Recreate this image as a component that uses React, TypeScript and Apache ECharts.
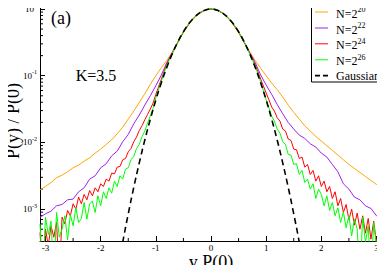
import React, { useEffect, useRef } from "react";
import * as echarts from "echarts";

// x grid (y P(0)) for the smoother curves, step 0.1
const xCoarse = [
  -3.1, -3.0, -2.9, -2.8, -2.7, -2.6, -2.5, -2.4, -2.3, -2.2, -2.1, -2.0, -1.9, -1.8, -1.7, -1.6,
  -1.5, -1.4, -1.3, -1.2, -1.1, -1.0, -0.9, -0.8, -0.7, -0.6, -0.5, -0.4, -0.3, -0.2, -0.1, 0,
  0.1, 0.2, 0.3, 0.4, 0.5, 0.6, 0.7, 0.8, 0.9, 1.0, 1.1, 1.2, 1.3, 1.4, 1.5, 1.6,
  1.7, 1.8, 1.9, 2.0, 2.1, 2.2, 2.3, 2.4, 2.5, 2.6, 2.7, 2.8, 2.9, 3.0, 3.1,
];

// log10 of P(y)/P(0)
const n20Log = [
  -2.71, -2.66, -2.6, -2.53, -2.49, -2.44, -2.38, -2.34, -2.28, -2.23, -2.16, -2.1, -2.03, -1.96, -1.87, -1.77,
  -1.65, -1.53, -1.4, -1.27, -1.13, -1.0, -0.88, -0.77, -0.64, -0.505, -0.355, -0.23, -0.13, -0.06, -0.015, 0,
  -0.015, -0.06, -0.13, -0.23, -0.355, -0.505, -0.64, -0.77, -0.89, -1.0, -1.11, -1.21, -1.32, -1.44, -1.55, -1.65,
  -1.75, -1.83, -1.91, -1.98, -2.05, -2.12, -2.19, -2.26, -2.33, -2.39, -2.45, -2.51, -2.57, -2.63, -2.69,
];

const n22Log = [
  -3.12, -3.07, -3.03, -2.95, -2.93, -2.86, -2.85, -2.74, -2.68, -2.55, -2.5, -2.38, -2.32, -2.2, -2.13, -1.99,
  -1.88, -1.72, -1.59, -1.44, -1.3, -1.15, -0.99, -0.8, -0.65, -0.495, -0.345, -0.22, -0.124, -0.055, -0.014, 0,
  -0.014, -0.055, -0.124, -0.22, -0.345, -0.495, -0.65, -0.8, -0.99, -1.14, -1.28, -1.43, -1.57, -1.7, -1.8, -1.89,
  -1.94, -2.02, -2.07, -2.16, -2.22, -2.33, -2.44, -2.62, -2.7, -2.82, -2.86, -2.95, -2.99, -3.1, -3.14,
];

// finer x grid for the noisy curves
const xFine = [
  -3.1, -3.05, -3.0, -2.95, -2.9, -2.85, -2.8, -2.75, -2.7, -2.65, -2.6, -2.55, -2.5, -2.45, -2.4, -2.35,
  -2.3, -2.25, -2.2, -2.15, -2.1, -2.05, -2.0, -1.95, -1.9, -1.85, -1.8, -1.75, -1.7, -1.65, -1.6, -1.55,
  -1.5, -1.45, -1.4, -1.35, -1.3, -1.25, -1.2, -1.15, -1.1, -1.05,
  -1.0, -0.9, -0.8, -0.7, -0.6, -0.5, -0.4, -0.3, -0.2, -0.1, 0, 0.1, 0.2, 0.3, 0.4, 0.5, 0.6, 0.7, 0.8, 0.9, 1.0,
  1.05, 1.1, 1.15, 1.2, 1.25, 1.3, 1.35, 1.4, 1.45, 1.5, 1.55, 1.6, 1.65, 1.7, 1.75, 1.8,
  1.85, 1.9, 1.95, 2.0, 2.05, 2.1, 2.15, 2.2, 2.25, 2.3, 2.35, 2.4, 2.45, 2.5, 2.55, 2.6,
  2.65, 2.7, 2.75, 2.8, 2.85, 2.9, 2.95, 3.0, 3.05, 3.1,
];

const n24Log = [
  -3.35, -4.0, -3.3, -3.55, -3.25, -3.42, -3.2, -4.0, -3.12, -3.22, -3.02, -3.1, -2.92, -3.0, -2.82, -2.92,
  -2.78, -2.86, -2.72, -2.8, -2.68, -2.74, -2.62, -2.66, -2.55, -2.58, -2.46, -2.47, -2.37, -2.36, -2.26, -2.24,
  -2.14, -2.09, -1.99, -1.92, -1.82, -1.75, -1.66, -1.58, -1.5, -1.41,
  -1.28, -1.05, -0.82, -0.66, -0.495, -0.343, -0.22, -0.124, -0.055, -0.014, 0, -0.014, -0.055, -0.124, -0.22, -0.343, -0.495, -0.66, -0.83, -1.05, -1.26,
  -1.36, -1.47, -1.53, -1.63, -1.68, -1.8, -1.83, -1.95, -1.97, -2.1, -2.11, -2.24, -2.22, -2.37, -2.33, -2.48,
  -2.42, -2.58, -2.5, -2.66, -2.58, -2.74, -2.66, -2.84, -2.74, -2.95, -2.84, -3.05, -2.93, -3.16, -3.0, -3.24,
  -3.06, -3.3, -3.1, -3.36, -3.14, -3.45, -3.18, -3.52, -3.25, -3.6,
];

const n26Log = [
  -3.22, -4.0, -3.12, -3.38, -3.18, -4.0, -3.05, -3.42, -3.3, -3.1, -3.46, -3.08, -3.25, -2.98, -3.2, -3.14,
  -2.9, -3.15, -2.92, -2.88, -3.05, -2.8, -2.95, -2.74, -2.84, -2.68, -2.76, -2.58, -2.66, -2.5, -2.55, -2.4,
  -2.38, -2.26, -2.21, -2.09, -2.03, -1.91, -1.83, -1.71, -1.6, -1.49,
  -1.33, -1.08, -0.84, -0.665, -0.493, -0.342, -0.219, -0.123, -0.055, -0.014, 0, -0.014, -0.055, -0.123, -0.219, -0.342, -0.493, -0.665, -0.85, -1.09, -1.36,
  -1.48, -1.61, -1.68, -1.8, -1.86, -1.99, -2.03, -2.18, -2.19, -2.33, -2.32, -2.48, -2.42, -2.6, -2.55, -2.7,
  -2.62, -2.84, -2.7, -2.78, -2.95, -2.8, -3.02, -2.9, -3.1, -2.98, -3.2, -3.04, -3.28, -3.1, -3.4, -3.15,
  -3.3, -4.0, -3.12, -3.5, -3.25, -4.0, -3.2, -3.55, -3.28, -4.0,
];

const xGauss = [
  -1.7, -1.6, -1.5, -1.4, -1.3, -1.2, -1.1, -1.0, -0.9, -0.8, -0.7, -0.6, -0.5, -0.4, -0.3, -0.2, -0.1, 0,
  0.1, 0.2, 0.3, 0.4, 0.5, 0.6, 0.7, 0.8, 0.9, 1.0, 1.1, 1.2, 1.3, 1.4, 1.5, 1.6, 1.7,
];
const gaussVals = [
  1.14e-4, 3.21e-4, 8.51e-4, 2.12e-3, 4.94e-3, 1.085e-2, 2.23e-2, 4.32e-2, 7.85e-2, 0.134, 0.215, 0.323, 0.456,
  0.605, 0.754, 0.882, 0.969, 1, 0.969, 0.882, 0.754, 0.605, 0.456, 0.323, 0.215, 0.134, 7.85e-2, 4.32e-2,
  2.23e-2, 1.085e-2, 4.94e-3, 2.12e-3, 8.51e-4, 3.21e-4, 1.14e-4,
];

const seriesNames = ["N=2^20", "N=2^22", "N=2^24", "N=2^26", "Gaussian"];
const seriesColors = ["#FFA500", "#A020F0", "#FF0000", "#00FF00", "#000000"];

const xMajorTicks = [-3, -2, -1, 0, 1, 2, 3];
const xMinorTicks = [-2.5, -1.5, -0.5, 0.5, 1.5, 2.5];
const yMajorTicks = [1e-3, 1e-2, 1e-1, 1];
const yMinorTicks = [
  4e-4, 5e-4, 6e-4, 7e-4, 8e-4, 9e-4,
  2e-3, 3e-3, 4e-3, 5e-3, 6e-3, 7e-3, 8e-3, 9e-3,
  2e-2, 3e-2, 4e-2, 5e-2, 6e-2, 7e-2, 8e-2, 9e-2,
  0.2, 0.3, 0.4, 0.5, 0.6, 0.7, 0.8, 0.9,
];

const X_MIN = -3.1;
const X_MAX = 3.1;
const Y_MIN = 3.33e-4;
const Y_MAX = 1.318;

const FONT = "Liberation Serif, Times New Roman, serif";

const logPoints = (xs: number[], logs: number[]) => xs.map((x, i) => [x, Math.pow(10, logs[i])]);
const rawPoints = (xs: number[], vals: number[]) => xs.map((x, i) => [x, vals[i]]);

// legend box layout (pixels)
const LEG_LEFT = 311.5;
const LEG_TOP = -0.5;
const LEG_W = 72;
const LEG_H = 82.5;
const LEG_ROWS = [12, 28, 43.8, 59.8, 75.6];

export default function App() {
  const ref = useRef<HTMLDivElement>(null);

  useEffect(() => {
    if (!ref.current) return;
    const chart = echarts.init(ref.current, undefined, { renderer: "svg" });

    const lineSeries = (name: string, color: string, data: number[][], extra: any = {}) => ({
      type: "line",
      name,
      data,
      xAxisIndex: 0,
      yAxisIndex: 0,
      showSymbol: false,
      symbol: "none",
      clip: true,
      lineStyle: { color, width: 1 },
      itemStyle: { color },
      ...extra,
    });

    const tickStyle = { stroke: "#000", lineWidth: 1 };

    const legendChildren: any[] = [
      {
        type: "rect",
        shape: { x: LEG_LEFT, y: LEG_TOP, width: LEG_W, height: LEG_H },
        style: { fill: "#fff", stroke: "#000", lineWidth: 1 },
      },
    ];
    seriesNames.forEach((name, i) => {
      const cy = LEG_ROWS[i];
      legendChildren.push({
        type: "line",
        shape: { x1: 315, y1: cy, x2: 328, y2: cy },
        style: {
          stroke: seriesColors[i],
          lineWidth: i === 4 ? 1.6 : 1,
          lineDash: i === 4 ? [5, 3] : null,
        },
      });
      const isN = name.indexOf("N=2^") === 0;
      legendChildren.push({
        type: "text",
        x: 336,
        y: isN ? cy + 1.5 : cy,
        style: {
          text: isN ? `{b|N=2}{s|${name.slice(4)}}` : `{b|${name}}`,
          align: "left",
          verticalAlign: "middle",
          fill: "#000",
          fontFamily: FONT,
          fontSize: 12,
          rich: {
            b: { fontFamily: FONT, fontSize: 12, fill: "#000", lineHeight: 14 },
            s: { fontFamily: FONT, fontSize: 8, fill: "#000", lineHeight: 8, padding: [0, 0, 8, 0] },
          },
        },
      });
    });

    const option: any = {
      animation: false,
      backgroundColor: "#fff",
      grid: { left: 40, right: 3, top: 1, bottom: 32, containLabel: false, outerBoundsMode: "none" },
      xAxis: [
        {
          type: "value",
          position: "bottom",
          min: X_MIN,
          max: X_MAX,
          name: "y P(0)",
          nameLocation: "middle",
          nameGap: 12,
          nameMoveOverlap: false,
          nameTextStyle: { fontFamily: FONT, fontSize: 18, color: "#000" },
          axisLine: { show: true, onZero: false, lineStyle: { color: "#000", width: 1 } },
          axisTick: { show: true, inside: true, length: 5, customValues: xMajorTicks, lineStyle: { color: "#000" } },
          axisLabel: {
            show: true,
            customValues: xMajorTicks,
            margin: 2,
            fontFamily: FONT,
            fontSize: 9,
            color: "#000",
            formatter: (v: number) => String(Math.round(v)),
          },
          splitLine: { show: false },
        },
        {
          type: "value",
          position: "top",
          min: X_MIN,
          max: X_MAX,
          axisLine: { show: true, onZero: false, lineStyle: { color: "#000", width: 1 } },
          axisTick: { show: true, inside: true, length: 5, customValues: xMajorTicks, lineStyle: { color: "#000" } },
          axisLabel: { show: false },
          splitLine: { show: false },
        },
      ],
      yAxis: [
        {
          type: "log",
          logBase: 10,
          position: "left",
          min: Y_MIN,
          max: Y_MAX,
          name: "P(y) / P(0)",
          nameLocation: "middle",
          nameRotate: 90,
          nameGap: 18,
          nameMoveOverlap: false,
          nameTextStyle: { fontFamily: FONT, fontSize: 18, color: "#000" },
          axisLine: { show: true, onZero: false, lineStyle: { color: "#000", width: 1 } },
          axisTick: { show: true, inside: true, length: 5, customValues: yMajorTicks, lineStyle: { color: "#000" } },
          axisLabel: {
            show: true,
            customValues: yMajorTicks,
            margin: 3,
            formatter: (v: number) => `{b|10}{s|${Math.round(Math.log10(v))}}`,
            rich: {
              b: { fontFamily: FONT, fontSize: 9, color: "#000", lineHeight: 10 },
              s: { fontFamily: FONT, fontSize: 6, color: "#000", lineHeight: 6, padding: [0, 0, 7, 0] },
            },
          },
          splitLine: { show: false },
        },
        {
          type: "log",
          logBase: 10,
          position: "right",
          min: Y_MIN,
          max: Y_MAX,
          axisLine: { show: true, onZero: false, lineStyle: { color: "#000", width: 1 } },
          axisTick: { show: true, inside: true, length: 5, customValues: yMajorTicks, lineStyle: { color: "#000" } },
          axisLabel: { show: false },
          splitLine: { show: false },
        },
      ],
      series: [
        lineSeries(seriesNames[0], seriesColors[0], logPoints(xCoarse, n20Log)),
        lineSeries(seriesNames[1], seriesColors[1], logPoints(xCoarse, n22Log)),
        lineSeries(seriesNames[2], seriesColors[2], logPoints(xFine, n24Log)),
        lineSeries(seriesNames[3], seriesColors[3], logPoints(xFine, n26Log)),
        lineSeries(seriesNames[4], seriesColors[4], rawPoints(xGauss, gaussVals), {
          smooth: true,
          lineStyle: { color: "#000", width: 1.6, type: [6, 4] },
        }),
        {
          type: "custom",
          name: "yMinorTicks",
          silent: true,
          xAxisIndex: 0,
          yAxisIndex: 0,
          data: yMinorTicks.map((v) => [0, v]),
          renderItem: (_p: any, api: any) => {
            const v = api.value(1);
            const l = api.coord([X_MIN, v]);
            const r = api.coord([X_MAX, v]);
            return {
              type: "group",
              children: [
                { type: "line", shape: { x1: l[0], y1: l[1], x2: l[0] + 3, y2: l[1] }, style: tickStyle },
                { type: "line", shape: { x1: r[0], y1: r[1], x2: r[0] - 3, y2: r[1] }, style: tickStyle },
              ],
            };
          },
        },
        {
          type: "custom",
          name: "xMinorTicks",
          silent: true,
          xAxisIndex: 0,
          yAxisIndex: 0,
          data: xMinorTicks.map((v) => [v, 0.01]),
          renderItem: (_p: any, api: any) => {
            const v = api.value(0);
            const b = api.coord([v, Y_MIN]);
            const t = api.coord([v, Y_MAX]);
            return {
              type: "group",
              children: [
                { type: "line", shape: { x1: b[0], y1: b[1], x2: b[0], y2: b[1] - 3 }, style: tickStyle },
                { type: "line", shape: { x1: t[0], y1: t[1], x2: t[0], y2: t[1] + 3 }, style: tickStyle },
              ],
            };
          },
        },
      ],
      graphic: [
        {
          type: "text",
          x: 61,
          y: 18,
          style: { text: "(a)", fontFamily: FONT, fontSize: 18, fill: "#000", align: "center", verticalAlign: "middle" },
        },
        {
          type: "text",
          x: 96,
          y: 75,
          style: { text: "K=3.5", fontFamily: FONT, fontSize: 16, fill: "#000", align: "center", verticalAlign: "middle" },
        },
        { type: "group", children: legendChildren },
      ],
    };

    chart.setOption(option);
    return () => chart.dispose();
  }, []);

  return <div ref={ref} style={{ width: 385, height: 273, margin: -8 }} />;
}
